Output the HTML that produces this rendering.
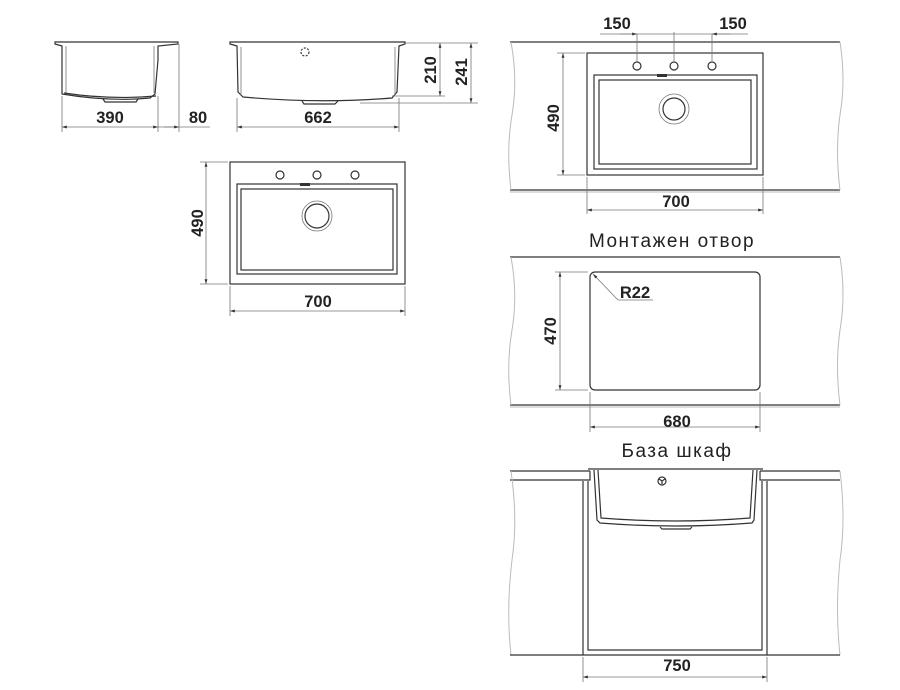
<!DOCTYPE html>
<html><head><meta charset="utf-8"><style>
html,body{margin:0;padding:0;background:#fff;}
svg{display:block}
text{font-family:"Liberation Sans",sans-serif;font-weight:bold;font-size:16.5px;fill:#222;text-anchor:middle}
.t{font-weight:normal;font-size:19px;letter-spacing:1.5px}
.l{stroke:#333;stroke-width:1.2;fill:none}
.d{stroke:#777;stroke-width:0.8;fill:none}
.g{stroke:#bbb;stroke-width:1;fill:none}
</style></head><body>
<svg width="900" height="690" viewBox="0 0 900 690" xmlns="http://www.w3.org/2000/svg">
<defs>
<marker id="a" viewBox="0 0 10 10" refX="10" refY="5" markerWidth="8" markerHeight="6" orient="auto-start-reverse"><path d="M0,2 L10,5 L0,8 z" fill="#333"/></marker>
</defs>

<!-- side view -->
<path class="l" d="M55,42 L178,42 L178,44 L158,46 L158,60 L155,94 L150,98 Q110,102 62,94 L62,46 L55,44 Z" stroke-width="1.5"/>
<path class="d" d="M66,46 L66,93 M154,46 L154,93"/>
<path class="l" d="M64,93 Q110,100 156,96 M103,99 L105,102 L136,102 L138,99"/>
<line class="d" x1="62" y1="96" x2="62" y2="132"/><line class="d" x1="158" y1="96" x2="158" y2="132"/><line class="d" x1="179" y1="44" x2="179" y2="132"/>
<line class="d" x1="62" y1="127" x2="158" y2="127" marker-start="url(#a)" marker-end="url(#a)"/>
<line class="d" x1="158" y1="127" x2="210" y2="127"/>
<line class="d" x1="164" y1="127" x2="179" y2="127" marker-end="url(#a)"/>
<text x="110" y="123">390</text><text x="198" y="123">80</text>

<!-- front view -->
<path class="l" d="M230,42 L405,42 L405,44 L399,46 L397,92 L392,98 Q320,104 243,97 L238,92 L237,46 L230,44 Z" stroke-width="1.5"/>
<path class="d" d="M241,47 L241,95 M395,47 L395,95"/>
<path class="l" d="M302,101 L304,104 L335,104 L338,101"/>
<circle cx="305" cy="52" r="4" class="l" stroke-dasharray="2,1.5" stroke-width="1"/>
<line class="d" x1="237" y1="98" x2="237" y2="132"/><line class="d" x1="399" y1="98" x2="399" y2="132"/>
<line class="d" x1="237" y1="127" x2="399" y2="127" marker-start="url(#a)" marker-end="url(#a)"/>
<text x="318" y="123">662</text>
<line class="d" x1="405" y1="43" x2="478" y2="43"/><line class="d" x1="392" y1="96" x2="445" y2="96"/><line class="d" x1="360" y1="103" x2="478" y2="103"/>
<line class="d" x1="440" y1="43" x2="440" y2="96" marker-start="url(#a)" marker-end="url(#a)"/>
<line class="d" x1="471" y1="43" x2="471" y2="103" marker-start="url(#a)" marker-end="url(#a)"/>
<text transform="translate(436,70) rotate(-90)">210</text>
<text transform="translate(467,72) rotate(-90)">241</text>

<!-- top view left -->
<rect class="l" x="230" y="162" width="175" height="122"/>
<rect class="l" x="237" y="184" width="160" height="90"/>
<rect class="l" x="241" y="189" width="152" height="81"/>
<rect x="300" y="183" width="10" height="3" fill="#333"/>
<circle class="l" cx="280" cy="175" r="4"/><circle class="l" cx="317" cy="175" r="4"/><circle class="l" cx="355" cy="175" r="4"/>
<circle class="d" cx="317" cy="216" r="15"/><circle class="l" cx="317" cy="216" r="12" stroke-width="1.5"/>
<line class="d" x1="200" y1="162" x2="228" y2="162"/><line class="d" x1="200" y1="284" x2="228" y2="284"/>
<line class="d" x1="206" y1="162" x2="206" y2="284" marker-start="url(#a)" marker-end="url(#a)"/>
<text transform="translate(203,223) rotate(-90)">490</text>
<line class="d" x1="230" y1="286" x2="230" y2="316"/><line class="d" x1="405" y1="286" x2="405" y2="316"/>
<line class="d" x1="230" y1="311" x2="405" y2="311" marker-start="url(#a)" marker-end="url(#a)"/>
<text x="318" y="307">700</text>

<!-- right top -->
<line class="l" x1="510" y1="42" x2="840" y2="42"/>
<line class="l" x1="510" y1="190" x2="840" y2="190"/><line class="g" x1="510" y1="192" x2="840" y2="192"/>
<path class="g" d="M511,42 Q518,80 512,115 Q506,150 511,190 M840,42 Q846,80 840,115 Q835,150 840,190"/>
<rect class="l" x="587" y="53" width="176" height="122" fill="#fff"/>
<rect class="l" x="594" y="75" width="163" height="94"/>
<rect class="l" x="599" y="80" width="152" height="84"/>
<rect x="657" y="74" width="10" height="3" fill="#333"/>
<circle class="l" cx="637" cy="66" r="4"/><circle class="l" cx="674" cy="66" r="4"/><circle class="l" cx="712" cy="66" r="4"/>
<circle class="d" cx="674" cy="109" r="15"/><circle class="l" cx="674" cy="109" r="11" stroke-width="1.5"/>
<line class="d" x1="600" y1="34" x2="748" y2="34"/>
<line class="d" x1="620" y1="34" x2="637" y2="34" marker-end="url(#a)"/>
<line class="d" x1="730" y1="34" x2="712" y2="34" marker-end="url(#a)"/>
<line class="d" x1="637" y1="34" x2="637" y2="62"/><line class="d" x1="712" y1="34" x2="712" y2="62"/><line class="d" x1="674" y1="32" x2="674" y2="62"/>
<text x="617" y="29">150</text><text x="733" y="29">150</text>
<line class="d" x1="557" y1="53" x2="585" y2="53"/><line class="d" x1="557" y1="175" x2="585" y2="175"/>
<line class="d" x1="563" y1="53" x2="563" y2="175" marker-start="url(#a)" marker-end="url(#a)"/>
<text transform="translate(559,118) rotate(-90)">490</text>
<line class="d" x1="587" y1="177" x2="587" y2="214"/><line class="d" x1="763" y1="177" x2="763" y2="214"/>
<line class="d" x1="587" y1="210" x2="763" y2="210" marker-start="url(#a)" marker-end="url(#a)"/>
<text x="676" y="207">700</text>

<text class="t" x="672" y="247">Монтажен отвор</text>

<!-- cutout -->
<line class="l" x1="510" y1="257" x2="840" y2="257"/>
<line class="l" x1="510" y1="405" x2="840" y2="405"/><line class="g" x1="510" y1="407" x2="840" y2="407"/>
<path class="g" d="M511,257 Q518,295 512,330 Q506,365 511,405 M840,257 Q846,295 840,330 Q835,365 840,405"/>
<rect class="l" x="590" y="272" width="170" height="118" rx="5"/>
<line class="d" x1="618" y1="300" x2="593" y2="274" marker-end="url(#a)"/>
<line class="d" x1="618" y1="300" x2="653" y2="300"/>
<text x="635" y="298">R22</text>
<line class="d" x1="555" y1="272" x2="588" y2="272"/><line class="d" x1="555" y1="390" x2="588" y2="390"/>
<line class="d" x1="560" y1="272" x2="560" y2="390" marker-start="url(#a)" marker-end="url(#a)"/>
<text transform="translate(556,331) rotate(-90)">470</text>
<line class="d" x1="590" y1="392" x2="590" y2="432"/><line class="d" x1="760" y1="392" x2="760" y2="432"/>
<line class="d" x1="590" y1="427" x2="760" y2="427" marker-start="url(#a)" marker-end="url(#a)"/>
<text x="677" y="427">680</text>

<text class="t" x="677" y="457">База шкаф</text>

<!-- cabinet -->
<path class="l" d="M510,471 L590,471 M510,480 L590,480 L590,471 M760,471 L840,471 M760,480 L840,480 L760,480 L760,471"/>
<path class="g" d="M511,471 Q518,520 512,560 Q506,610 511,655 M840,471 Q846,520 840,560 Q835,610 840,655"/>
<path class="l" d="M583,481 L583,655 L767,655 L767,481 M588,481 L588,650 L762,650 L762,481"/>
<line class="l" x1="510" y1="655" x2="583" y2="655"/><line class="l" x1="767" y1="655" x2="840" y2="655"/>
<path class="l" d="M588,469 L763,469 M594,470 L597,520 L600,523 Q676,529 752,523 L754,520 L757,470 M598,470 L601,518 Q676,524 750,518 L753,470" fill="#fff"/>
<path class="l" d="M660,527 L662,529 L690,529 L692,527"/>
<circle class="l" cx="662" cy="481" r="4"/><path class="l" d="M662,481 L662,484 M662,481 L659,479 M662,481 L665,479" stroke-width="1"/>
<line class="d" x1="583" y1="657" x2="583" y2="682"/><line class="d" x1="767" y1="657" x2="767" y2="682"/>
<line class="d" x1="583" y1="677" x2="767" y2="677" marker-start="url(#a)" marker-end="url(#a)"/>
<text x="677" y="671">750</text>
</svg>
</body></html>
